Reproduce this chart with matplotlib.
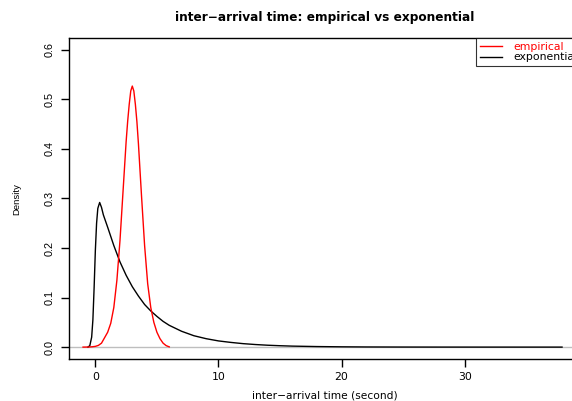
import matplotlib
matplotlib.use("Agg")
import matplotlib.pyplot as plt

plt.rcParams['font.family'] = ['DejaVu Sans']

# empirical density
emp_x = [-1.0, -0.75, -0.5, -0.25, 0.0, 0.25, 0.5, 0.75, 1.0, 1.25, 1.5, 1.75, 2.0, 2.25,
         2.5, 2.625, 2.75, 2.875, 3.0, 3.125, 3.25, 3.375, 3.5, 3.75, 4.0, 4.25, 4.5,
         4.75, 5.0, 5.25, 5.5, 5.75, 6.0]
emp_y = [0.0, 0.0001, 0.0003, 0.0007, 0.0015, 0.0035, 0.008, 0.019, 0.030, 0.048, 0.08,
         0.135, 0.215, 0.315, 0.415, 0.456, 0.49, 0.517, 0.527, 0.517, 0.49, 0.455, 0.41,
         0.305, 0.205, 0.128, 0.08, 0.05, 0.03, 0.017, 0.008, 0.003, 0.0005]

# exponential density
exp_x = [-0.6, -0.45, -0.3, -0.2, -0.1, 0.0, 0.1, 0.2, 0.35, 0.5, 0.65, 1.0, 1.5, 2.0,
         2.5, 3.0, 3.5, 4.0, 4.5, 5.0, 5.5, 6.0, 7.0, 8.0, 9.0, 10.0, 11.0, 12.0, 13.0,
         14.0, 15.0, 16.0, 18.0, 20.0, 22.0, 25.0, 28.0, 31.0, 34.0, 37.9]
exp_y = [0.0, 0.003, 0.02, 0.055, 0.12, 0.195, 0.25, 0.28, 0.292, 0.282, 0.267, 0.242,
         0.205, 0.172, 0.145, 0.122, 0.103, 0.086, 0.073, 0.062, 0.052, 0.044, 0.032,
         0.023, 0.017, 0.0125, 0.0095, 0.007, 0.0052, 0.0038, 0.0028, 0.002, 0.0011,
         0.0006, 0.0003, 0.00012, 0.00005, 0.00002, 0.00001, 0.0]

x_ticks = [0, 10, 20, 30]
y_ticks = [0.0, 0.1, 0.2, 0.3, 0.4, 0.5, 0.6]
y_ticklabels = ["0.0", "0.1", "0.2", "0.3", "0.4", "0.5", "0.6"]

fig = plt.figure(figsize=(5.72, 4.01), dpi=100)
W, H = 572, 401
left_px, right_px, top_px, bottom_px = 69, 581, 38, 359
ax = fig.add_axes([left_px / W, 1 - bottom_px / H, (right_px - left_px) / W,
                   (bottom_px - top_px) / H])
ax.set_xlim(-2.14, 39.44)
ax.set_ylim(-0.024, 0.624)

ax.axhline(0, color='#bebebe', lw=1.0, zorder=1)
ax.plot(exp_x, exp_y, color='black', lw=1.0, label='exponential', zorder=3)
ax.plot(emp_x, emp_y, color='red', lw=1.0, label='empirical', zorder=4)

ax.spines['right'].set_visible(False)
for s in ['left', 'top', 'bottom']:
    ax.spines[s].set_linewidth(1.0)

ax.set_xticks(x_ticks)
ax.set_xticklabels([str(t) for t in x_ticks], fontsize=7.8)
ax.set_yticks(y_ticks)
ax.set_yticklabels(y_ticklabels, rotation=90, va='center',
                   family='Liberation Sans', fontsize=7.8)
ax.tick_params(axis='both', direction='out', length=5.5, width=1.0)
ax.tick_params(axis='x', pad=3.5)
ax.tick_params(axis='y', pad=5.0)

cx = (left_px + right_px) / 2 / W
fig.text(cx, 1 - 17 / H, "inter\u2212arrival time: empirical vs exponential",
         ha='center', va='center', fontsize=8.75, fontweight='bold')
fig.text(cx, 1 - 395 / H, "inter\u2212arrival time (second)",
         ha='center', va='center', fontsize=7.7)
fig.text(17 / W, 1 - 199 / H, "Density", ha='center', va='center', fontsize=6.8,
         rotation=90, family='Liberation Sans')

handles, labels = ax.get_legend_handles_labels()
leg = ax.legend(handles[::-1], labels[::-1], loc='upper right', fontsize=7.8,
                frameon=True, fancybox=False, edgecolor='black', borderaxespad=0,
                handlelength=2.1, handletextpad=1.0, labelspacing=0.05,
                borderpad=0.35, labelcolor='linecolor')
leg.get_frame().set_linewidth(0.8)

fig.savefig("out.png", dpi=100)
